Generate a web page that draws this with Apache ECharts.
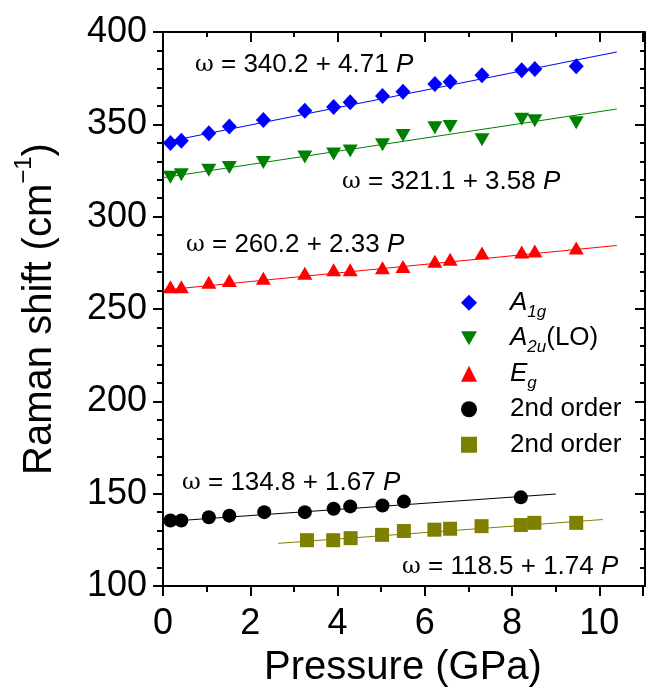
<!DOCTYPE html>
<html>
<head>
<meta charset="utf-8">
<script src="https://cdn.jsdelivr.net/npm/echarts@6/dist/echarts.min.js"></script>
<style>
html, body { margin: 0; padding: 0; background: #fff; }
#chart { width: 646px; height: 693px; }
</style>
</head>
<body>
<div id="chart"></div>
<script>
// values
var pressure = [0.17, 0.42, 1.05, 1.52, 2.30, 3.25, 3.91, 4.29, 5.03, 5.50, 6.23, 6.58, 7.31, 8.22, 8.52, 9.47];
var a1g = [339.9, 341.1, 345.2, 348.8, 352.3, 357.3, 359.4, 361.9, 365.3, 367.7, 371.8, 373.0, 376.6, 379.3, 379.9, 381.5];
var a2u = [321.3, 322.7, 325.2, 326.6, 329.3, 332.3, 334.0, 335.5, 339.0, 344.0, 348.2, 348.8, 341.7, 352.8, 352.0, 350.9];
var eg = [262.0, 262.0, 264.5, 265.4, 266.7, 269.3, 271.3, 271.3, 272.3, 273.0, 275.9, 277.0, 280.3, 280.9, 281.4, 283.1];

var pressureOrd1 = [0.17, 0.42, 1.05, 1.52, 2.32, 3.25, 3.91, 4.29, 5.03, 5.52, 8.20];
var order1 = [135.5, 135.5, 137.2, 138.1, 140.0, 140.0, 141.8, 143.1, 143.6, 145.7, 148.0];
var pressureOrd2 = [3.30, 3.90, 4.30, 5.02, 5.52, 6.22, 6.58, 7.30, 8.20, 8.51, 9.47];
var order2 = [124.8, 124.8, 125.9, 127.7, 129.8, 130.5, 131.0, 132.4, 133.0, 134.2, 134.2];

// end points of the fitted lines, as drawn
var fitA1g = [[0, 340.2], [10.4, 389.2]];
var fitA2u = [[0, 321.1], [10.4, 358.3]];
var fitEg = [[0, 260.2], [10.4, 284.4]];
var fitOrd1 = [[0, 134.8], [9.0, 149.8]];
var fitOrd2 = [[2.64, 123.1], [10.08, 136.0]];

var eqTexts = ["340.2 + 4.71", "321.1 + 3.58", "260.2 + 2.33", "134.8 + 1.67", "118.5 + 1.74"];

var xTicks = [0, 2, 4, 6, 8, 10];
var yTicks = [100, 150, 200, 250, 300, 350, 400];

var FONT = "'Liberation Sans', Arial, Helvetica, sans-serif";
var downTri = "path://M0,0L10,0L5,8.7Z";

function pairs(xs, ys) {
    var out = [];
    for (var i = 0; i < xs.length; i++) {
        out.push([xs[i], ys[i]]);
    }
    return out;
}

function scatter(name, data, symbol, size, color) {
    return {
        name: name, type: "scatter", data: data, symbol: symbol, symbolSize: size,
        itemStyle: { color: color, opacity: 1 }, z: 5, silent: true
    };
}

function fitLine(data, color) {
    return {
        type: "line", data: data, showSymbol: false, symbol: "none",
        lineStyle: { color: color, width: 1 }, z: 3, silent: true
    };
}

function eqText(text, x, y) {
    return {
        type: "text", x: x, y: y, z: 10,
        style: {
            text: "{w|\u03c9} = " + text + " {i|P}",
            fontSize: 26, fontFamily: FONT, fill: "#000", verticalAlign: "middle",
            rich: {
                w: { fontSize: 23, fontFamily: "'DejaVu Serif', serif", fill: "#000" },
                i: { fontSize: 26, fontStyle: "italic", fontFamily: FONT, fill: "#000" }
            }
        }
    };
}

var legendLabels = {
    "A1g": "{i|A}{s|1g}",
    "A2u": "{i|A}{s|2u}(LO)",
    "Eg": "{i|E}{s|g}",
    "ord1": "2nd order",
    "ord2": "2nd order"
};

var chart = echarts.init(document.getElementById("chart"));

var option = {
    animation: false,
    backgroundColor: "#fff",
    grid: { left: 163, width: 484, top: 32, bottom: 98 },
    legend: {
        orient: "vertical", left: 456, top: 280,
        itemWidth: 16, itemHeight: 16, itemGap: 0,
        selectedMode: false,
        data: [
            { name: "A1g", icon: "diamond" },
            { name: "A2u", icon: downTri },
            { name: "Eg", icon: "triangle" },
            { name: "ord1", icon: "circle" },
            { name: "ord2", icon: "rect" }
        ],
        formatter: function (name) { return legendLabels[name]; },
        textStyle: {
            fontSize: 26, fontFamily: FONT, color: "#000", lineHeight: 35.5,
            padding: [0, 0, 0, 28],
            rich: {
                i: { fontSize: 26, fontStyle: "italic", fontFamily: FONT, color: "#000", lineHeight: 35.5 },
                s: { fontSize: 17, fontStyle: "italic", fontFamily: FONT, color: "#000", lineHeight: 14, verticalAlign: "bottom" }
            }
        }
    },
    xAxis: [{
        type: "value", min: 0, max: 11, interval: 2, position: "bottom",
        name: "Pressure (GPa)", nameLocation: "middle", nameGap: 62,
        nameTextStyle: { fontSize: 40, fontFamily: FONT, color: "#000" },
        axisLine: { show: true, onZero: false, lineStyle: { color: "#000", width: 2 } },
        axisTick: { show: true, inside: false, length: 10, lineStyle: { color: "#000", width: 2 } },
        minorTick: { show: true, splitNumber: 2, length: 6, lineStyle: { color: "#000", width: 2 } },
        splitLine: { show: false },
        axisLabel: {
            fontSize: 36, fontFamily: FONT, color: "#000", margin: 20,
            formatter: function (v) { return xTicks.indexOf(v) >= 0 ? String(v) : ""; }
        }
    }, {
        type: "value", min: 0, max: 11, interval: 2, position: "top",
        axisLine: { show: true, onZero: false, lineStyle: { color: "#000", width: 2 } },
        axisTick: { show: true, inside: true, length: 10, lineStyle: { color: "#000", width: 2 } },
        minorTick: { show: true, splitNumber: 2, length: 5, lineStyle: { color: "#000", width: 2 } },
        splitLine: { show: false },
        axisLabel: { show: false }
    }],
    yAxis: [{
        type: "value", min: 100, max: 400, interval: 50, position: "left",
        name: "{a|Raman shift (cm}{s|\u22121}{a|)}", nameLocation: "middle", nameGap: 95, nameRotate: 90,
        nameTextStyle: {
            fontSize: 40, fontFamily: FONT, color: "#000",
            rich: {
                a: { fontSize: 40, fontFamily: FONT, color: "#000", lineHeight: 56 },
                s: { fontSize: 24, fontFamily: FONT, color: "#000", lineHeight: 8, verticalAlign: "top" }
            }
        },
        axisLine: { show: true, onZero: false, lineStyle: { color: "#000", width: 2 } },
        axisTick: { show: true, inside: false, length: 10, lineStyle: { color: "#000", width: 2 } },
        minorTick: { show: true, splitNumber: 5, length: 6, lineStyle: { color: "#000", width: 2 } },
        splitLine: { show: false },
        axisLabel: {
            fontSize: 36, fontFamily: FONT, color: "#000", margin: 16,
            formatter: function (v) { return yTicks.indexOf(v) >= 0 ? String(v) : ""; }
        }
    }, {
        type: "value", min: 100, max: 400, interval: 50, position: "right", offset: 2,
        axisLine: { show: true, onZero: false, lineStyle: { color: "#000", width: 2 } },
        axisTick: { show: true, inside: true, length: 10, lineStyle: { color: "#000", width: 2 } },
        minorTick: { show: true, splitNumber: 5, length: 5, lineStyle: { color: "#000", width: 2 } },
        splitLine: { show: false },
        axisLabel: { show: false }
    }],
    series: [
        fitLine(fitA1g, "#0000ff"),
        fitLine(fitA2u, "#008000"),
        fitLine(fitEg, "#ff0000"),
        fitLine(fitOrd1, "#000000"),
        fitLine(fitOrd2, "#7f7f00"),
        scatter("A1g", pairs(pressure, a1g), "diamond", [15, 16], "#0000ff"),
        scatter("A2u", pairs(pressure, a2u), downTri, [15, 13], "#008000"),
        scatter("Eg", pairs(pressure, eg), "triangle", [15, 13], "#ff0000"),
        scatter("ord1", pairs(pressureOrd1, order1), "circle", 14, "#000000"),
        scatter("ord2", pairs(pressureOrd2, order2), "rect", 14, "#7f7f00")
    ],
    graphic: [
        eqText(eqTexts[0], 195, 65),
        eqText(eqTexts[1], 342, 182),
        eqText(eqTexts[2], 186, 245),
        eqText(eqTexts[3], 182, 483),
        eqText(eqTexts[4], 402, 567)
    ]
};

chart.setOption(option);
</script>
</body>
</html>
